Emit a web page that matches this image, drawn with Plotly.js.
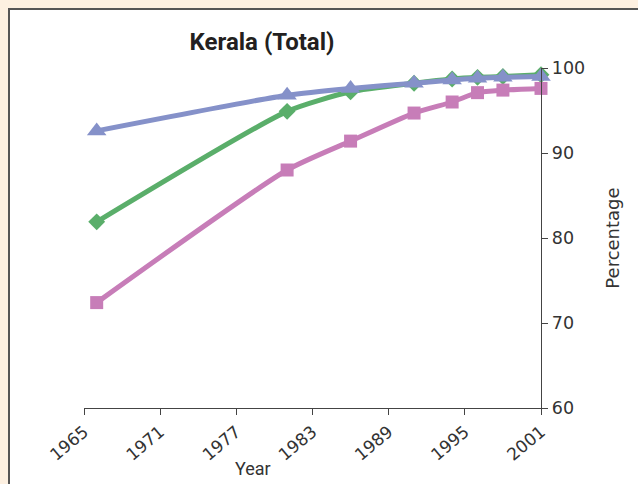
<!DOCTYPE html>
<html>
<head>
<meta charset="utf-8">
<script src="https://cdn.plot.ly/plotly-3.0.1.min.js"></script>
<style>
  html, body { margin:0; padding:0; width:638px; height:484px; overflow:hidden; background:#fdf0e1; }
  #frame { position:absolute; left:8px; top:8px; width:700px; height:600px; background:#ffffff; border:2px solid #555555; }
  #chart { position:absolute; left:0; top:0; width:638px; height:484px; }
</style>
</head>
<body>
<div id="frame"></div>
<div id="chart"></div>
<script>
const years = [1966, 1981, 1986, 1991, 1994, 1996, 1998, 2001];
const seriesBlue = [92.6, 96.8, 97.6, 98.2, 98.6, 98.8, 98.9, 99.0];
const seriesGreen = [81.9, 94.9, 97.2, 98.2, 98.7, 98.9, 99.0, 99.2];
const seriesPink = [72.4, 88.0, 91.4, 94.7, 96.0, 97.1, 97.4, 97.6];
const xTicks = [1965, 1971, 1977, 1983, 1989, 1995, 2001];
const yTicks = [60, 70, 80, 90, 100];

const yTickFont = {family: 'DejaVu Sans, sans-serif', size: 17.5, color: '#333333'};
const xTickFont = {family: 'DejaVu Sans, sans-serif', size: 17, color: '#333333'};

function trace(y, color, symbol, size) {
  return {
    x: years, y: y, type: 'scatter', mode: 'lines+markers', cliponaxis: false,
    line: {color: color, width: 5, shape: 'spline', smoothing: 0.6},
    marker: {color: color, symbol: symbol, size: size},
    hoverinfo: 'skip', showlegend: false
  };
}

const data = [
  trace(seriesGreen, '#5aae6a', 'diamond', 13),
  trace(seriesPink, '#c77db8', 'square', 13),
  trace(seriesBlue, '#8591c9', 'triangle-up', 17)
];

const layout = {
  width: 638, height: 484,
  paper_bgcolor: 'rgba(0,0,0,0)', plot_bgcolor: 'rgba(0,0,0,0)',
  margin: {l: 84, r: 97, t: 68, b: 76},
  title: {text: '<b>Kerala (Total)</b>',
          x: (262 - 84) / 457, xref: 'paper', xanchor: 'center',
          y: 1 - (42 / 484), yref: 'container', yanchor: 'middle',
          font: {family: 'Roboto, sans-serif', size: 24, color: '#231f20'}},
  xaxis: {
    range: [1965, 2001], tickvals: xTicks, ticktext: xTicks.map(String),
    tickangle: -40, ticks: 'outside', ticklen: 6, tickcolor: '#444', tickwidth: 1,
    showline: true, linecolor: '#444', linewidth: 1.3, showgrid: false, zeroline: false,
    tickfont: xTickFont, automargin: false, fixedrange: true
  },
  yaxis: {
    range: [60, 100], side: 'right', tickvals: yTicks, ticktext: yTicks.map(String),
    ticks: 'outside', ticklen: 6, tickcolor: '#444', tickwidth: 1,
    showline: true, linecolor: '#444', linewidth: 1.3, showgrid: false, zeroline: false,
    tickfont: yTickFont, automargin: false, fixedrange: true,
    title: {text: 'Percentage', font: {family: 'DejaVu Sans, sans-serif', size: 18, color: '#333333'}, standoff: 22}
  },
  annotations: [{
    text: 'Year', xref: 'paper', yref: 'paper', x: (253 - 84) / 457, y: -(468 - 408) / 340,
    xanchor: 'center', yanchor: 'middle', showarrow: false,
    font: {family: 'Roboto, sans-serif', size: 18, color: '#333333'}
  }]
};

Plotly.newPlot('chart', data, layout, {displayModeBar: false, staticPlot: true});
</script>
</body>
</html>
